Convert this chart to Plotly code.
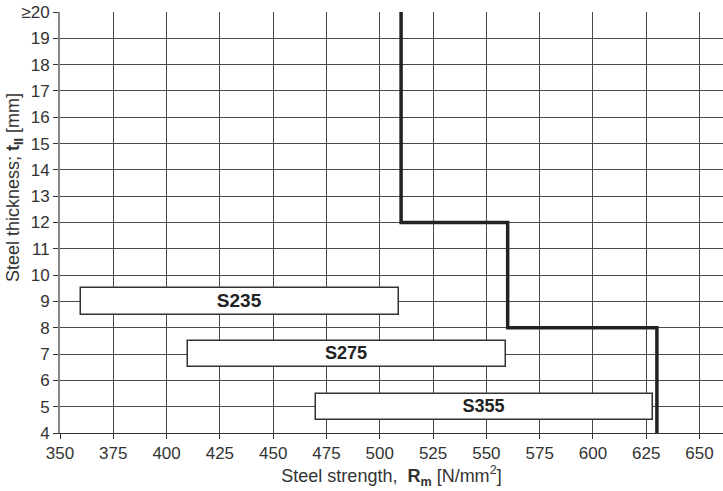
import plotly.graph_objects as go

# Data
grades = ["S235", "S275", "S355"]
bar_start = [360, 410, 470]
bar_end = [509, 559, 628]
bar_thickness = [9, 7, 5]

step_x = [510, 510, 560, 560, 630, 630]
step_y = [20, 12, 12, 8, 8, 4]

x_ticks = list(range(350, 651, 25))
y_ticks = list(range(4, 21))
y_ticktext = [str(v) for v in y_ticks[:-1]] + ["≥20"]

narrow = "Liberation Sans Narrow, Arial Narrow, Liberation Sans, Arial, sans-serif"
regular = "Liberation Sans, Arial, sans-serif"

fig = go.Figure()

fig.add_trace(go.Bar(
    y=bar_thickness,
    x=[e - s for s, e in zip(bar_start, bar_end)],
    base=bar_start,
    orientation="h",
    width=1.0,
    marker=dict(color="white", line=dict(color="#333333", width=1.5)),
    text=grades,
    textposition="inside",
    insidetextanchor="middle",
    textfont=dict(family=regular, size=19, color="#222222"),
    texttemplate="<b>%{text}</b>",
    hoverinfo="skip",
    showlegend=False,
))

fig.add_trace(go.Scatter(
    x=step_x, y=step_y,
    mode="lines",
    line=dict(color="#222222", width=3.5),
    showlegend=False,
    hoverinfo="skip",
))

fig.add_annotation(
    text="Steel thickness; <b>t<sub>II</sub></b> [mm]",
    textangle=-90,
    xref="paper", yref="paper",
    x=-0.0694, y=0.584,
    xanchor="center", yanchor="middle",
    showarrow=False,
    font=dict(family=narrow, size=18, color="#333333"),
)

fig.update_layout(
    width=723, height=491,
    margin=dict(l=60, r=0, t=12, b=58),
    paper_bgcolor="white",
    plot_bgcolor="white",
    font=dict(family=narrow, size=17, color="#333333"),
    xaxis=dict(
        range=[350, 661],
        tickvals=x_ticks,
        ticks="outside", ticklen=5, tickcolor="#333333",
        showgrid=True, gridcolor="#4a4a4a", gridwidth=1,
        showline=True, linecolor="#333333", linewidth=1,
        zeroline=False,
        tickfont=dict(family=narrow, size=17, color="#333333"),
        title=dict(text="Steel strength,  <b>R<sub>m</sub></b> [N/mm<sup>2</sup>]",
                   font=dict(family=narrow, size=18, color="#333333"), standoff=4),
        automargin=False,
    ),
    yaxis=dict(
        range=[4, 20],
        tickvals=y_ticks,
        ticktext=y_ticktext,
        ticks="outside", ticklen=5, tickcolor="#333333",
        showgrid=True, gridcolor="#4a4a4a", gridwidth=1,
        showline=True, linecolor="#888888", linewidth=2,
        zeroline=False,
        tickfont=dict(family=narrow, size=17, color="#333333"),
        ticklabeloverflow="allow",
        automargin=False,
    ),
    bargap=0,
)

fig.write_html("out.html", config={"displayModeBar": False},
               post_script="document.body.style.margin='0';")
